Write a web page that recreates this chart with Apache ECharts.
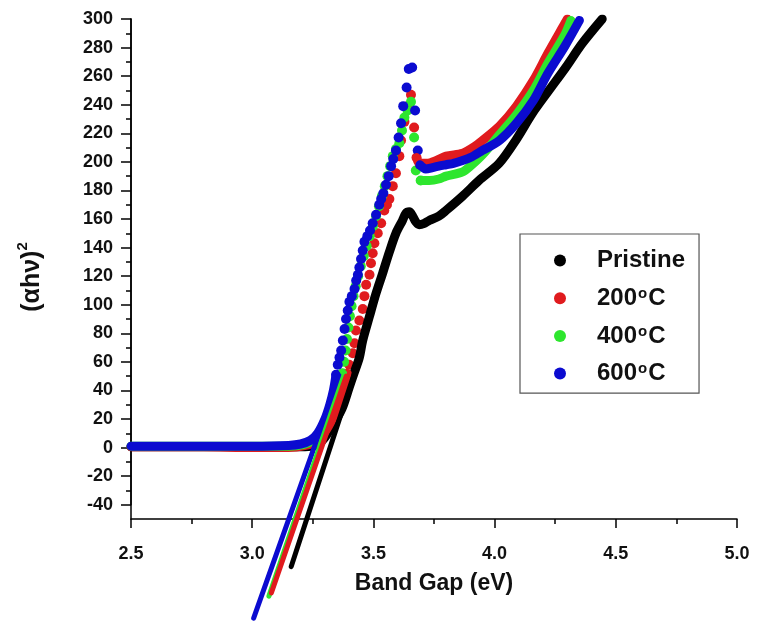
<!DOCTYPE html>
<html><head><meta charset="utf-8">
<script src="https://cdn.jsdelivr.net/npm/echarts@6/dist/echarts.min.js"></script>
<style>html,body{margin:0;padding:0;background:#fff}#c{width:767px;height:624px}</style>
</head><body><div id="c"></div>
<script>
// ---- data ----
const seriesNames = ['Pristine', '200°C', '400°C', '600°C'];
const seriesColors = ['#000000', '#e01b1e', '#2ee62e', '#0b0bd0'];

// Pristine: dense measurement, appears as a continuous thick curve
const pristine = [[2.5,0.5],[2.8,0.5],[3.1,0.5],[3.2,0.5],[3.25,1],[3.29,5],[3.33,15],[3.37,27],[3.40,42],[3.42,52],[3.442,63],[3.456,75],[3.484,92],[3.511,108],[3.538,122],[3.566,137],[3.593,150],[3.62,159],[3.634,164],[3.648,165],[3.662,162],[3.675,158],[3.689,156],[3.71,157],[3.73,159],[3.77,162],[3.80,166],[3.868,176],[3.936,187],[4.019,199],[4.087,215],[4.156,234],[4.224,250],[4.293,266],[4.362,283],[4.444,300]];

// 200 °C
const c200Flat = [[2.5,0.5],[2.8,0.5],[3.0,0],[3.15,0],[3.22,1.5],[3.26,4],[3.30,11],[3.33,20],[3.36,32],[3.38,44],[3.392,52]];
const c200Dots = [[3.40,58],[3.415,66],[3.422,73],[3.428,82],[3.442,89],[3.456,97],[3.463,106],[3.47,114],[3.484,121],[3.49,129],[3.497,136],[3.504,143],[3.518,150],[3.532,157],[3.545,166],[3.556,170],[3.566,174],[3.58,183],[3.593,192],[3.607,204],[3.614,215],[3.628,228],[3.641,239],[3.655,247],[3.668,224],[3.678,203]];
const c200Tail = [[3.678,203],[3.69,199],[3.72,199],[3.76,201],[3.80,204],[3.868,206],[3.92,211],[3.95,215],[4.02,225],[4.09,239],[4.16,257],[4.22,276],[4.29,297],[4.30,300]];

// 400 °C
const c400Flat = [[2.5,1],[2.8,1],[3.0,1],[3.15,1],[3.21,2],[3.25,5],[3.28,11],[3.31,21],[3.34,33],[3.36,44],[3.372,52]];
const c400Dots = [[3.372,52],[3.379,60],[3.385,68],[3.391,76],[3.397,84],[3.403,92],[3.41,99],[3.418,106],[3.427,113],[3.437,120],[3.448,127],[3.46,134],[3.472,141],[3.485,148],[3.498,155],[3.511,162],[3.523,169],[3.535,176],[3.547,183],[3.558,190],[3.569,197],[3.58,204],[3.593,209],[3.607,213],[3.618,222],[3.628,231],[3.641,236],[3.655,242],[3.668,217],[3.675,194],[3.695,187]];
const c400Tail = [[3.695,187],[3.73,187],[3.77,188],[3.80,190],[3.868,193],[3.90,197],[3.95,205],[4.02,219],[4.09,233],[4.16,250],[4.22,269],[4.29,289],[4.315,299]];

// 600 °C
const c600Flat = [[2.5,1],[2.8,1],[3.0,1],[3.15,1.5],[3.2,2.5],[3.24,5],[3.27,10],[3.30,20],[3.32,30],[3.335,40],[3.346,51]];
const c600Dots = [[3.346,51],[3.353,58],[3.360,63],[3.367,68],[3.374,75],[3.381,83],[3.387,90],[3.394,96],[3.401,102],[3.411,106],[3.422,111],[3.429,117],[3.436,121],[3.442,126],[3.449,132],[3.456,138],[3.463,144],[3.475,148],[3.486,152],[3.497,157],[3.511,163],[3.524,170],[3.532,174],[3.541,178],[3.552,184],[3.563,190],[3.573,197],[3.582,202],[3.593,208],[3.604,217],[3.614,227],[3.623,239],[3.637,252],[3.646,265],[3.660,266],[3.672,236],[3.683,208],[3.692,198]];
const c600Tail = [[3.692,198],[3.716,195],[3.744,196],[3.77,197],[3.80,198],[3.83,199],[3.868,201],[3.90,203],[3.95,208],[4.02,215],[4.09,227],[4.16,243],[4.22,262],[4.29,281],[4.35,299]];

// Tauc extrapolation lines
const tanPristine = [[3.161,-83.3],[3.442,62.6]];
const tan200 = [[3.079,-101.7],[3.388,50]];
const tan400 = [[3.069,-104],[3.381,52]];
const tan600 = [[3.006,-119.4],[3.36,50]];

// axis ranges / ticks
const xRange = [2.5, 5.0], xStep = 0.5;
const yRange = [-50, 300], yLabelRange = [-40, 300], yStep = 20;

// ---- chart ----
const chart = echarts.init(document.getElementById('c'), null, {renderer: 'canvas'});
const FONT = 'Liberation Sans, Arial, sans-serif';
const DOT = 10;

function band(name, data, color, width) {
  return {type: 'line', name: name, data: data, xAxisIndex: 0, yAxisIndex: 0,
    showSymbol: false, symbol: 'none', smooth: 0.3, silent: true,
    itemStyle: {color: color},
    lineStyle: {color: color, width: width, cap: 'round', join: 'round'}};
}
function dots(name, data, color) {
  return {type: 'scatter', name: name, data: data, xAxisIndex: 0, yAxisIndex: 0,
    symbol: 'circle', symbolSize: DOT, itemStyle: {color: color, opacity: 1}, silent: true};
}
function tangent(name, data, color) {
  return {type: 'line', name: name, data: data, xAxisIndex: 0, yAxisIndex: 0,
    showSymbol: false, symbol: 'none', clip: false, silent: true,
    itemStyle: {color: color},
    lineStyle: {color: color, width: 5, cap: 'round'}};
}

const option = {
  animation: false,
  backgroundColor: '#fff',
  textStyle: {fontFamily: FONT},
  grid: [
    {left: 131, right: 30, top: 19, bottom: 105},
    {left: 131, right: 30, top: 19, bottom: 105 + 10 * 500 / 350}
  ],
  xAxis: [
    {gridIndex: 0, type: 'value', min: xRange[0], max: xRange[1], interval: xStep,
      name: 'Band Gap (eV)', nameLocation: 'middle', nameGap: 53,
      nameTextStyle: {fontSize: 23, fontWeight: 'bold', color: '#111', fontFamily: FONT},
      axisLine: {show: true, onZero: false, lineStyle: {color: '#000', width: 1.5}},
      axisTick: {show: true, inside: false, length: 9, lineStyle: {color: '#000', width: 1.5}},
      minorTick: {show: true, splitNumber: 2, length: 5, lineStyle: {color: '#000', width: 1.5}},
      axisLabel: {margin: 26, fontSize: 18, fontWeight: 'bold', color: '#111', fontFamily: FONT,
        formatter: v => v.toFixed(1)},
      splitLine: {show: false}},
    {gridIndex: 1, type: 'value', min: xRange[0], max: xRange[1], show: false}
  ],
  yAxis: [
    {gridIndex: 0, type: 'value', min: yRange[0], max: yRange[1],
      name: '{a|(αhν)}{s|2}', nameLocation: 'middle', nameGap: 86,
      nameTextStyle: {color: '#111', fontFamily: FONT, padding: [0, 16, 0, 0],
        rich: {a: {fontSize: 25, fontWeight: 'bold', color: '#111', fontFamily: FONT, lineHeight: 30, verticalAlign: 'bottom'},
               s: {fontSize: 15, fontWeight: 'bold', color: '#111', fontFamily: FONT, lineHeight: 14, verticalAlign: 'top'}}},
      axisLine: {show: true, onZero: false, lineStyle: {color: '#000', width: 1.5}},
      axisTick: {show: false}, axisLabel: {show: false}, splitLine: {show: false}},
    {gridIndex: 1, type: 'value', min: yLabelRange[0], max: yLabelRange[1], interval: yStep,
      axisLine: {show: true, onZero: false, lineStyle: {color: '#000', width: 1.5}},
      axisTick: {show: true, inside: false, length: 10, lineStyle: {color: '#000', width: 1.5}},
      minorTick: {show: true, splitNumber: 2, length: 5, lineStyle: {color: '#000', width: 1.5}},
      axisLabel: {margin: 18, fontSize: 18, fontWeight: 'bold', color: '#111', fontFamily: FONT},
      splitLine: {show: false}}
  ],
  legend: {
    orient: 'vertical', left: 520, top: 234,
    padding: [14.5, 14, 7.5, 34],
    itemWidth: 64, itemHeight: 12, itemGap: 13.7,
    icon: 'circle',
    borderColor: '#555', borderWidth: 1.2,
    data: seriesNames,
    selectedMode: false,
    formatter: function (n) {
      if (n === 'Pristine') return '{b|Pristine}';
      return '{b|' + n.replace('°C', '') + '}{s|o}{b|C}';
    },
    textStyle: {color: '#111', fontFamily: FONT,
      rich: {b: {fontSize: 24, fontWeight: 'bold', color: '#111', fontFamily: FONT, lineHeight: 24, verticalAlign: 'bottom'},
             s: {fontSize: 15, fontWeight: 'bold', color: '#111', fontFamily: FONT, lineHeight: 12, verticalAlign: 'top', padding: [0, 1, 0, 1]}}}
  },
  series: [
    band('Pristine', pristine, seriesColors[0], 9),
    band('200 flat', c200Flat, seriesColors[1], 9),
    dots('200°C', c200Dots, seriesColors[1]),
    band('200 tail', c200Tail, seriesColors[1], 9),
    band('400 flat', c400Flat, seriesColors[2], 9),
    dots('400°C', c400Dots, seriesColors[2]),
    band('400 tail', c400Tail, seriesColors[2], 9),
    band('600 flat', c600Flat, seriesColors[3], 9),
    dots('600°C', c600Dots, seriesColors[3]),
    band('600 tail', c600Tail, seriesColors[3], 9),
    tangent('tan 600', tan600, seriesColors[3]),
    tangent('tan 400', tan400, seriesColors[2]),
    tangent('tan 200', tan200, seriesColors[1]),
    tangent('tan Pristine', tanPristine, seriesColors[0])
  ]
};
chart.setOption(option);
</script>
</body></html>
